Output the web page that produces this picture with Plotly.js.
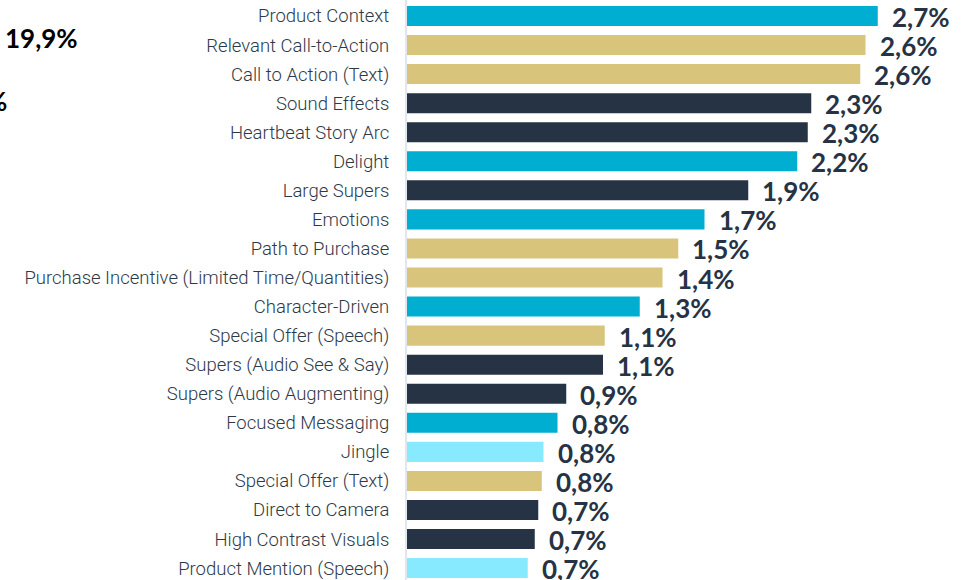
<!DOCTYPE html>
<html>
<head>
<meta charset="utf-8">
<script src="https://cdn.plot.ly/plotly-3.0.1.min.js"></script>
<style>
  html, body { margin: 0; padding: 0; background: #fff; }
  #chart { width: 969px; height: 580px; }
</style>
</head>
<body>
<div id="chart"></div>
<script>
// categories, top to bottom
var categories = [
  'Product Context', 'Relevant Call-to-Action', 'Call to Action (Text)', 'Sound Effects',
  'Heartbeat Story Arc', 'Delight', 'Large Supers', 'Emotions', 'Path to Purchase',
  'Purchase Incentive (Limited Time/Quantities)', 'Character-Driven', 'Special Offer (Speech)',
  'Supers (Audio See & Say)', 'Supers (Audio Augmenting)', 'Focused Messaging', 'Jingle',
  'Special Offer (Text)', 'Direct to Camera', 'High Contrast Visuals', 'Product Mention (Speech)'
];
// bar lengths (%)
var values = [2.69, 2.62, 2.59, 2.31, 2.29, 2.23, 1.95, 1.70, 1.55, 1.46,
              1.33, 1.13, 1.12, 0.91, 0.86, 0.78, 0.77, 0.75, 0.73, 0.69];
// printed labels
var valueLabels = ['2,7%', '2,6%', '2,6%', '2,3%', '2,3%', '2,2%', '1,9%', '1,7%', '1,5%', '1,4%',
                   '1,3%', '1,1%', '1,1%', '0,9%', '0,8%', '0,8%', '0,8%', '0,7%', '0,7%', '0,7%'];
// colour group per bar
var groups = ['blue', 'gold', 'gold', 'navy', 'navy', 'blue', 'navy', 'blue', 'gold', 'gold',
              'blue', 'gold', 'navy', 'navy', 'blue', 'light', 'gold', 'navy', 'navy', 'light'];
// cut-off numbers of the neighbouring chart at the left edge
var sideLabels = ['19,9%', '%'];

var palette = { blue: '#00aed1', gold: '#d8c47a', navy: '#263344', light: '#87eafe' };

var trace = {
  type: 'bar',
  orientation: 'h',
  x: values,
  y: categories,
  marker: { color: groups.map(function(g) { return palette[g]; }) },
  width: 0.69,
  hoverinfo: 'none'
};

var annotations = values.map(function(v, i) {
  return {
    x: v, y: categories[i], xref: 'x', yref: 'y',
    text: valueLabels[i], showarrow: false,
    xanchor: 'left', yanchor: 'middle', xshift: 12, yshift: -1,
    font: { family: 'Lato', size: 26, weight: 700, color: '#263344' }
  };
});

// left edge fragments
annotations.push({
  x: 0, y: 1, xref: 'paper', yref: 'paper', text: sideLabels[0], showarrow: false,
  xanchor: 'center', yanchor: 'middle', xshift: 41 - 407, yshift: -38,
  font: { family: 'Lato', size: 26, weight: 700, color: '#000' }
});
annotations.push({
  x: 0, y: 1, xref: 'paper', yref: 'paper', text: sideLabels[1], showarrow: false,
  xanchor: 'right', yanchor: 'middle', xshift: 9 - 407, yshift: -101,
  font: { family: 'Lato', size: 26, weight: 700, color: '#000' }
});

var layout = {
  width: 969,
  height: 580,
  margin: { l: 407, r: 0, t: 0, b: 0, pad: 0 },
  paper_bgcolor: '#fff',
  plot_bgcolor: '#fff',
  showlegend: false,
  xaxis: {
    range: [0, 562 / 175],
    visible: false,
    fixedrange: true
  },
  yaxis: {
    type: 'category',
    categoryorder: 'array',
    categoryarray: categories,
    range: [19.41, -0.55],
    showline: true,
    linecolor: '#e2e6ee',
    linewidth: 2,
    showgrid: false,
    zeroline: false,
    ticks: 'outside',
    ticklen: 12,
    tickcolor: 'rgba(0,0,0,0)',
    tickfont: { family: 'Roboto', size: 18.5, weight: 300, color: '#2e3947' },
    fixedrange: true
  },
  annotations: annotations
};

Plotly.newPlot('chart', [trace], layout, { displayModeBar: false, staticPlot: true });
</script>
</body>
</html>
